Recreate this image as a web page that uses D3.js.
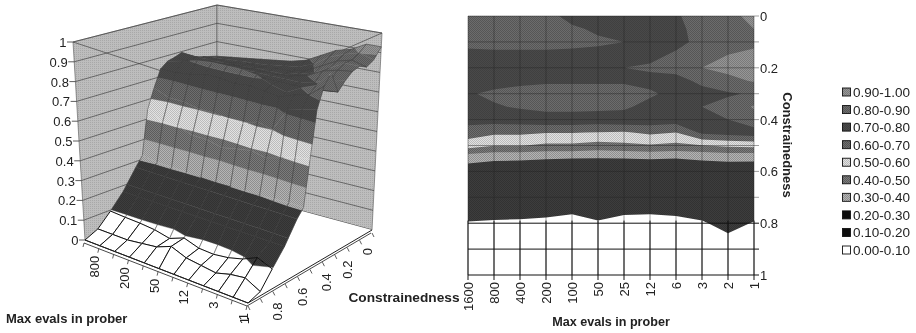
<!DOCTYPE html>
<html><head><meta charset="utf-8">
<script src="https://cdn.jsdelivr.net/npm/d3@7"></script>
<style>html,body{margin:0;padding:0;background:#fff}svg{display:block}text{font-family:"Liberation Sans",Arial,sans-serif;fill:#222}</style>
</head><body><svg id="c" width="916" height="333"></svg>
<script>
// ---------- data ----------
const evalLabels = ["1600","800","400","200","100","50","25","12","6","3","2","1"];
const constrainedness = [0,.05,.1,.15,.2,.25,.3,.35,.4,.45,.5,.55,.6,.7,.8,.9,1];
const zTicks = [0,.1,.2,.3,.4,.5,.6,.7,.8,.9,1];
const bandLabels = ["0.00-0.10","0.10-0.20","0.20-0.30","0.30-0.40","0.40-0.50","0.50-0.60","0.60-0.70","0.70-0.80","0.80-0.90","0.90-1.00"];
const bandBase = ["#ffffff","#3c3c3c","#3c3c3c","#b4b4b4","#7c7c7c","#e2e2e2","#6e6e6e","#4a4a4a","#6c6c6c","#969696"];
const bandDot  = ["#ffffff","#333333","#333333","#8e8e8e","#5c5c5c","#bcbcbc","#525252","#404040","#565656","#7a7a7a"];
const rowsTail = [
 [.77,.79,.81,.82,.82,.82,.81,.78,.76,.80,.83,.91],
 [.74,.74,.75,.77,.77,.76,.77,.76,.75,.78,.80,.86],
 [.65,.62,.62,.605,.605,.595,.59,.62,.60,.72,.74,.76],
 [.55,.505,.505,.48,.48,.461,.476,.49,.473,.495,.52,.53],
 [.319,.307,.306,.302,.30,.297,.30,.302,.30,.306,.31,.309],
 [.27,.27,.27,.27,.27,.27,.27,.27,.27,.27,.27,.27],
 [.17,.17,.17,.17,.17,.17,.17,.17,.17,.17,.17,.17],
 [.095,.09,.087,.08,.063,.092,.067,.063,.0725,.092,.125,.095],
 [.03,.03,.03,.04,.05,.08,.05,.04,.03,.05,.06,.02],
 [0,0,0,0,0,0,0,0,0,0,0,0]];
const contourTop = [
 [.84,.84,.83,.82,.78,.77,.77,.78,.79,.84,.87,.93],
 [.83,.84,.83,.83,.81,.79,.77,.77,.78,.83,.85,.90],
 [.83,.83,.83,.83,.82,.81,.80,.78,.78,.82,.84,.87],
 [.77,.78,.78,.78,.78,.78,.77,.78,.81,.85,.90,.93],
 [.77,.76,.76,.78,.79,.795,.80,.81,.83,.90,.93,.94],
 [.75,.76,.78,.79,.79,.79,.79,.78,.77,.82,.87,.91],
 [.79,.82,.83,.83,.83,.83,.83,.81,.78,.77,.79,.81]];
const surfaceTop = [
 [.72,.73,.74,.75,.76,.77,.79,.83,.87,.89,.93,.93],
 [.73,.73,.74,.74,.75,.76,.77,.80,.85,.88,.90,.88],
 [.74,.74,.74,.75,.75,.76,.76,.78,.82,.86,.88,.86],
 [.75,.75,.75,.75,.76,.76,.76,.78,.80,.84,.88,.88],
 [.77,.76,.76,.77,.77,.77,.77,.78,.80,.84,.86,.87],
 [.795,.79,.78,.78,.78,.78,.78,.78,.78,.80,.82,.84],
 [.78,.78,.78,.78,.78,.78,.78,.78,.78,.78,.79,.80]];
const contourRows = contourTop.concat(rowsTail);
const surfaceRows = surfaceTop.concat(rowsTail);

// ---------- setup ----------
const svg = d3.select("#c");
const defs = svg.append("defs");
bandBase.forEach((b,i)=>{
  const p = defs.append("pattern").attr("id","b"+i).attr("width",2).attr("height",2).attr("patternUnits","userSpaceOnUse");
  p.append("rect").attr("width",2).attr("height",2).attr("fill",b);
  p.append("rect").attr("width",1).attr("height",1).attr("fill",bandDot[i]);
  p.append("rect").attr("x",1).attr("y",1).attr("width",1).attr("height",1).attr("fill",bandDot[i]);
});
const wp = defs.append("pattern").attr("id","wall").attr("width",2).attr("height",2).attr("patternUnits","userSpaceOnUse");
wp.append("rect").attr("width",2).attr("height",2).attr("fill","#bdbdbd");
wp.append("rect").attr("width",1).attr("height",1).attr("fill","#a8a8a8");
defs.append("filter").attr("id","soft").attr("x",0).attr("y",0).attr("width",1).attr("height",1)
  .append("feGaussianBlur").attr("stdDeviation",0.55);
const root = svg.append("g").attr("filter","url(#soft)");
root.append("rect").attr("width",916).attr("height",333).attr("fill","#fff");

// ---------- 3D panel ----------
const boxBottom = {A:[85,240],B:[248,303],C:[372,230],D:[217,188]};
const boxTop    = {A:[73,42], B:[238,96], C:[382,33], D:[217,5]};
const tScale = d3.scaleLinear().domain([0,evalLabels.length-1]).range([0,1]);
const uScale = d3.scaleLinear().domain([0,1]).range([0,1]);
const corner = (face,t,u)=>{
  const back = d3.interpolate(face.D,face.C)(t), front = d3.interpolate(face.A,face.B)(t);
  return d3.interpolate(back,front)(u);
};
const project = (t,u,z)=>d3.interpolate(corner(boxBottom,t,u),corner(boxTop,t,u))(z);
const line = d3.line();
const g3 = root.append("g");
// walls
const wallL = [[0,1,0],[0,1,1],[0,0,1],[0,0,0]].map(p=>project(...p));
const wallR = [[0,0,0],[0,0,1],[1,0,1],[1,0,0]].map(p=>project(...p));
g3.append("path").attr("d",line(wallL)+"Z").attr("fill","url(#wall)").attr("stroke","#555").attr("stroke-width",.6);
g3.append("path").attr("d",line(wallR)+"Z").attr("fill","url(#wall)").attr("stroke","#555").attr("stroke-width",.6);
zTicks.forEach(z=>{
  g3.append("path").attr("d",line([project(0,1,z),project(0,0,z),project(1,0,z)]))
    .attr("fill","none").attr("stroke","#444").attr("stroke-width",.7);
});
// rim in front of the box, behind the surface
g3.append("path").attr("d",line([project(0,1,1),project(1,1,1),project(1,0,1)])).attr("fill","none").attr("stroke","#444").attr("stroke-width",.7);
// floor
g3.append("path").attr("d",line([project(0,1,0),project(1,1,0),project(1,0,0),project(0,0,0)])+"Z").attr("fill","#fff");

// clip a polygon [[t,u,z]...] to lo<=z<=hi
function clip(poly,lo,hi){
  const cut=(pts,keep,level)=>{
    const out=[];
    pts.forEach((p,i)=>{
      const q=pts[(i+1)%pts.length], kp=keep(p[2]), kq=keep(q[2]);
      if(kp) out.push(p);
      if(kp!==kq){const f=(level-p[2])/(q[2]-p[2]);out.push([p[0]+f*(q[0]-p[0]),p[1]+f*(q[1]-p[1]),level]);}
    });
    return out;
  };
  let r=cut(poly,z=>z>=lo,lo);
  if(r.length) r=cut(r,z=>z<=hi,hi);
  return r;
}
const nCol=evalLabels.length;
const strongRow=c=>Math.abs(c*10-Math.round(c*10))<1e-6 && c!==.5 && c!==.6;
for(let r=0;r<constrainedness.length-1;r++){
  for(let i=0;i<nCol-1;i++){
    const t0=tScale(i),t1=tScale(i+1),u0=uScale(constrainedness[r]),u1=uScale(constrainedness[r+1]);
    const quad=[[t0,u0,surfaceRows[r][i]],[t1,u0,surfaceRows[r][i+1]],[t1,u1,surfaceRows[r+1][i+1]],[t0,u1,surfaceRows[r+1][i]]];
    bandBase.forEach((b,k)=>{
      const part=clip(quad,k/10,(k+1)/10);
      if(part.length>2){
        const d=line(part.map(p=>project(...p)))+"Z";
        g3.append("path").attr("d",d).attr("fill","url(#b"+k+")").attr("stroke",b).attr("stroke-width",.4);
      }
    });
    const edge=(a,b,w,col)=>g3.append("path").attr("d",line([project(...a),project(...b)])).attr("fill","none").attr("stroke",col).attr("stroke-width",w);
    const low=constrainedness[r]>=.75;
    const w=low?1:.55,col=low?"#111":"#3a3a3a";
    edge(quad[0],quad[3],w,col);
    edge(quad[1],quad[2],w,col);
    if(strongRow(constrainedness[r])) edge(quad[0],quad[1],w,col);
    if(strongRow(constrainedness[r+1])) edge(quad[3],quad[2],w,col);
  }
}
// base plate double edge
const floorEdge=[project(0,1,0),project(1,1,0),project(1,0,0)];
g3.append("path").attr("d",line(floorEdge)).attr("fill","none").attr("stroke","#222").attr("stroke-width",1);
g3.append("path").attr("d",line(floorEdge.map(p=>[p[0]-1,p[1]+3]))).attr("fill","none").attr("stroke","#333").attr("stroke-width",.9);
// z axis
zTicks.forEach(z=>{
  const p=project(0,1,z);
  g3.append("path").attr("d",line([[p[0]-6,p[1]],p])).attr("stroke","#333").attr("stroke-width",.8);
  g3.append("text").attr("x",p[0]-6.5).attr("y",p[1]+5).attr("text-anchor","end").attr("font-size",13).text(String(z));
});
// eval axis
evalLabels.forEach((lab,i)=>{
  const p=project(tScale(i),1,0);
  g3.append("path").attr("d",line([[p[0]-1,p[1]+3],[p[0]-2,p[1]+7]])).attr("stroke","#333").attr("stroke-width",.8);
  if(i%2===1) g3.append("text").attr("transform",`translate(${p[0]-.5},${p[1]+10}) rotate(-90)`).attr("text-anchor","end").attr("font-size",13).text(lab);
});
// constrainedness axis
zTicks.forEach((c,i)=>{
  const p=project(1,uScale(c),0);
  g3.append("path").attr("d",line([[p[0],p[1]+3],[p[0]+2,p[1]+7]])).attr("stroke","#333").attr("stroke-width",.8);
  const dx = c===1 ? 1 : 9-Math.max(0,.4-c)*22, dy = 14+Math.max(0,.4-c)*10;
  if(i%2===0) g3.append("text").attr("transform",`translate(${p[0]+dx},${p[1]+dy}) rotate(-90)`).attr("text-anchor","end").attr("font-size",13).text(String(c));
});
root.append("text").attr("x",6).attr("y",323).attr("font-size",13).attr("font-weight","bold").text("Max evals in prober");

// ---------- contour panel ----------
const x2=d3.scaleLinear().domain([0,nCol-1]).range([468,754]).clamp(true);
const cPx=d3.scaleLinear().domain([0,1]).range([16,275]);
const rowIdx=d3.scaleLinear().domain(d3.range(constrainedness.length)).range(constrainedness).clamp(true);
const thresholds=zTicks.slice(1,10);
const contours=d3.contours().size([nCol,constrainedness.length]).thresholds(thresholds).smooth(true)(contourRows.flat());
const geo=d3.geoPath(d3.geoTransform({point(x,y){this.stream.point(x2(x-.5),cPx(rowIdx(y-.5)));}}));
const gC=root.append("g");
gC.append("rect").attr("x",468).attr("y",16).attr("width",286).attr("height",259).attr("fill","#fff");
contours.forEach((ct,i)=>{
  gC.append("path").attr("d",geo(ct)).attr("fill","url(#b"+(i+1)+")");
});
// grid
evalLabels.forEach((lab,i)=>{
  gC.append("line").attr("x1",x2(i)).attr("x2",x2(i)).attr("y1",16).attr("y2",275).attr("stroke","#222").attr("stroke-width",.8).attr("stroke-opacity",.55);
  gC.append("line").attr("x1",x2(i)).attr("x2",x2(i)).attr("y1",cPx(.79)).attr("y2",280).attr("stroke","#111").attr("stroke-width",1);
  gC.append("text").attr("transform",`translate(${x2(i)+5},282) rotate(-90)`).attr("text-anchor","end").attr("font-size",13).text(lab);
});
zTicks.forEach((c,i)=>{
  const y=cPx(c);
  const dark=c>=.8;
  gC.append("line").attr("x1",468).attr("x2",759).attr("y1",y).attr("y2",y).attr("stroke",dark?"#111":"#222").attr("stroke-width",dark?1:.8).attr("stroke-opacity",dark?1:.55);
  if(i%2===0) gC.append("text").attr("x",760).attr("y",y+5).attr("font-size",13).text(String(c));
});
root.append("text").attr("x",611).attr("y",326).attr("text-anchor","middle").attr("font-size",12.6).attr("font-weight","bold").text("Max evals in prober");
root.append("text").attr("x",404).attr("y",302).attr("text-anchor","middle").attr("font-size",13.7).attr("font-weight","bold").text("Constrainedness");
root.append("text").attr("transform","translate(783,145) rotate(90)").attr("text-anchor","middle").attr("font-size",13).attr("font-weight","bold").text("Constrainedness");

// ---------- legend ----------
const gL=root.append("g");
const legY=d3.scaleLinear().domain([0,9]).range([250,92]);
bandLabels.forEach((lab,i)=>{
  const y=legY(i);
  gL.append("rect").attr("x",842.5).attr("y",y-4).attr("width",8).attr("height",8).attr("fill",i>0&&i<3?"#111":"url(#b"+i+")").attr("stroke","#111").attr("stroke-width",.9);
  gL.append("text").attr("x",853).attr("y",y+5).attr("font-size",13.5).text(lab);
});
</script></body></html>
